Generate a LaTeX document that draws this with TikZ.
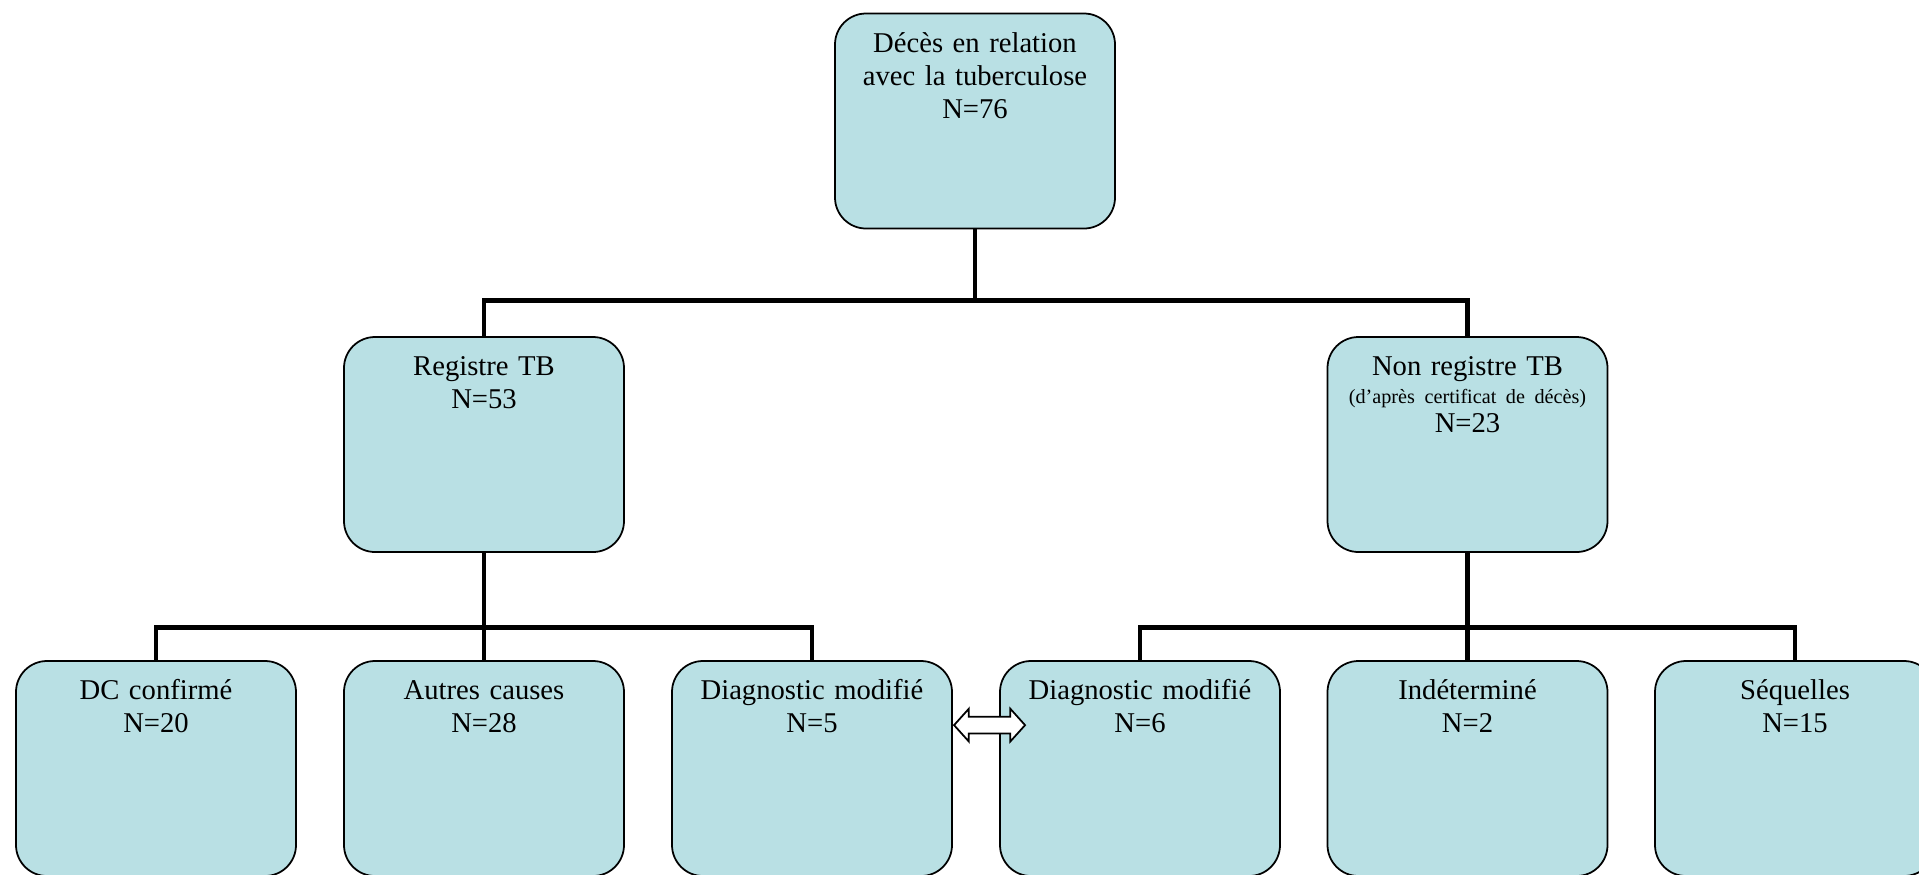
\documentclass[tikz,border=0pt]{standalone}
\usepackage{fontspec}
\setmainfont{Liberation Serif}
\usetikzlibrary{positioning,calc,shapes.arrows}
\definecolor{bleuboite}{RGB}{185,224,228}
\tikzset{boite/.style={draw,fill=bleuboite,rounded corners=0.62cm,line width=1pt,text width=5.6cm,align=center,inner xsep=0pt,inner ysep=0pt,text height=0.77cm,text depth=3.53cm,font=\fontsize{16.3}{18.9}\selectfont}  }
\tikzset{lien/.style={line width=2.8pt}  }
\tikzset{fleche/.style={draw,fill=white,double arrow,line width=1pt,minimum height=1.42cm,inner xsep=0pt,inner ysep=0.15cm,double arrow head extend=0.16cm,double arrow tip angle=96}  }
\newcommand{\petit}{\fontsize{11.5}{13}\selectfont}

\begin{document}
\begin{tikzpicture}
	\useasboundingbox (0,0) rectangle (38.38,-17.48);
		\node[boite] (top) at (19.5,-2.42) {D\'ec\`es en relation\\avec la tuberculose\\N=76};

			\node[boite] (regtb) at (9.68,-8.89) {Registre TB\\N=53};
			\node[boite] (nonreg) at (29.35,-8.89) {Non registre TB\\[-3pt]{\petit (d'apr\`es certificat de d\'ec\`es)}\\[-2.5pt]N=23};

			\node[boite] (dc) at (3.12,-15.37) {DC confirm\'e\\N=20};
			\node[boite] (autres) at (9.68,-15.37) {Autres causes\\N=28};
			\node[boite] (dm1) at (16.24,-15.37) {Diagnostic modifi\'e\\N=5};
			\node[boite] (dm2) at (22.8,-15.37) {Diagnostic modifi\'e\\N=6};
			\node[boite] (indet) at (29.35,-15.37) {Ind\'etermin\'e\\N=2};
			\node[boite] (seq) at (35.9,-15.37) {S\'equelles\\N=15};

			\draw[lien] (top.south) -- ++(0,-1.43) coordinate (jtop);
			\draw[lien] (regtb.north) |- (jtop) -| (nonreg.north);

			\draw[lien] (regtb.south) -- (autres.north);
			\coordinate (jreg) at ($(regtb.south)+(0,-1.5)$);
			\draw[lien] (dc.north) |- (jreg) -| (dm1.north);

			\draw[lien] (nonreg.south) -- (indet.north);
			\coordinate (jnon) at ($(nonreg.south)+(0,-1.5)$);
			\draw[lien] (dm2.north) |- (jnon) -| (seq.north);

				\node[fleche,anchor=west] (dbl) at ($(dm1.north east)+(0,-1.3)$) {};
	\end{tikzpicture}
\end{document}
